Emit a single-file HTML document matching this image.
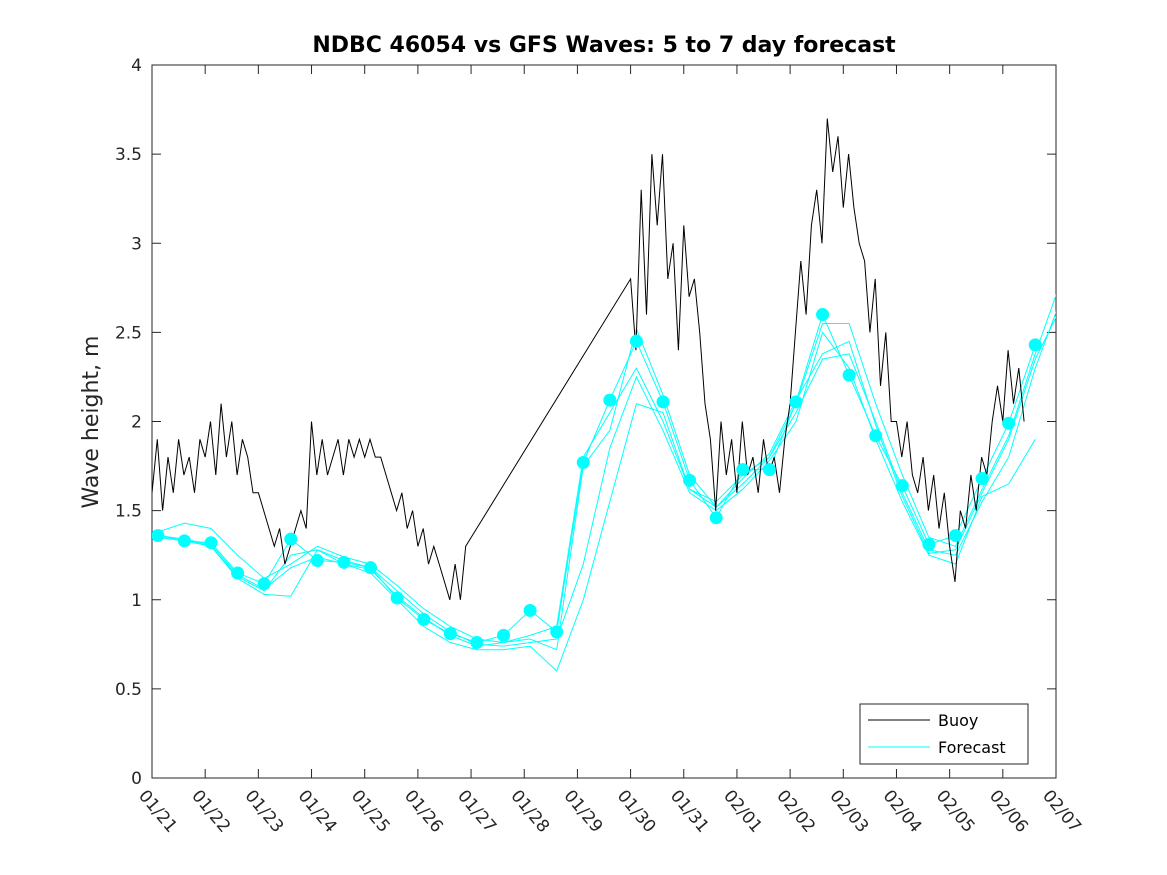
<!DOCTYPE html>
<html><head><meta charset="utf-8"><style>
body{margin:0;background:#fff;}
svg{display:block;font-family:"DejaVu Sans","Liberation Sans",sans-serif;}
</style></head><body>
<svg id="chart" width="1167" height="875" xmlns="http://www.w3.org/2000/svg">
<defs><clipPath id="plotclip"><rect x="152" y="65" width="904" height="713"/></clipPath></defs>
<rect width="1167" height="875" fill="#fff"/>
<text x="604" y="52" text-anchor="middle" font-size="22" font-weight="bold" fill="#000">NDBC 46054 vs GFS Waves: 5 to 7 day forecast</text>
<text transform="translate(98,422) rotate(-90)" text-anchor="middle" font-size="22" fill="#262626">Wave height, m</text>
<g id="axes"></g>
<g id="series" clip-path="url(#plotclip)"></g>
<g id="legend">
<rect x="860" y="704" width="168" height="60" fill="#fff" stroke="#262626" stroke-width="1"/>
<line x1="868" y1="720" x2="930" y2="720" stroke="#000" stroke-width="1"/>
<text x="938" y="726" font-size="16" fill="#000">Buoy</text>
<line x1="868" y1="747" x2="930" y2="747" stroke="#00ffff" stroke-width="1"/>
<text x="938" y="753" font-size="16" fill="#000">Forecast</text>
</g>
</svg>
<script>
const xTickLabels=["01/21","01/22","01/23","01/24","01/25","01/26","01/27","01/28","01/29","01/30","01/31","02/01","02/02","02/03","02/04","02/05","02/06","02/07"];
const yTicks=[0,0.5,1,1.5,2,2.5,3,3.5,4];
const yTickLabels=["0","0.5","1","1.5","2","2.5","3","3.5","4"];
const buoy1Start=0.0;
const buoy1=[1.6,1.9,1.5,1.8,1.6,1.9,1.7,1.8,1.6,1.9,1.8,2.0,1.7,2.1,1.8,2.0,1.7,1.9,1.8,1.6,1.6,1.5,1.4,1.3,1.4,1.2,1.3,1.4,1.5,1.4,2.0,1.7,1.9,1.7,1.8,1.9,1.7,1.9,1.8,1.9,1.8,1.9,1.8,1.8,1.7,1.6,1.5,1.6,1.4,1.5,1.3,1.4,1.2,1.3,1.2,1.1,1.0,1.2,1.0,1.3];
const buoy2Start=9.0;
const buoy2=[2.8,2.4,3.3,2.6,3.5,3.1,3.5,2.8,3.0,2.4,3.1,2.7,2.8,2.5,2.1,1.9,1.5,2.0,1.7,1.9,1.6,2.0,1.7,1.8,1.6,1.9,1.7,1.8,1.6,1.9,2.1,2.5,2.9,2.6,3.1,3.3,3.0,3.7,3.4,3.6,3.2,3.5,3.2,3.0,2.9,2.5,2.8,2.2,2.5,2.0,2.0,1.8,2.0,1.7,1.6,1.8,1.5,1.7,1.4,1.6,1.3,1.1,1.5,1.4,1.7,1.5,1.8,1.7,2.0,2.2,2.0,2.4,2.1,2.3,2.0];
const fcStart=0.11;
const fcDots=[1.36,1.33,1.32,1.15,1.09,1.34,1.22,1.21,1.18,1.01,0.89,0.81,0.76,0.80,0.94,0.82,1.77,2.12,2.45,2.11,1.67,1.46,1.73,1.73,2.11,2.60,2.26,1.92,1.64,1.31,1.36,1.68,1.99,2.43];
const run1=[1.38,1.43,1.40,1.25,1.12,1.20,1.30,1.24,1.20,1.08,0.95,0.85,0.78,0.76,0.78,0.72,1.75,1.95,2.52,2.15,1.70,1.52,1.65,1.80,2.10,2.55,2.55,2.10,1.70,1.35,1.30,1.62,1.92,2.38,2.80];
const run2=[1.36,1.34,1.30,1.12,1.03,1.02,1.28,1.20,1.15,1.00,0.85,0.76,0.72,0.72,0.74,0.60,1.00,1.55,2.10,2.05,1.62,1.55,1.70,1.80,2.05,2.35,2.38,2.00,1.60,1.28,1.25,1.55,1.80,2.30,2.70];
const run3=[1.35,1.33,1.30,1.13,1.05,1.25,1.28,1.22,1.18,1.05,0.92,0.82,0.75,0.74,0.76,0.78,1.20,1.85,2.25,1.95,1.60,1.50,1.62,1.78,2.00,2.50,2.30,1.90,1.55,1.25,1.20,1.58,1.65,1.90];
const run4=[1.36,1.34,1.31,1.14,1.06,1.18,1.24,1.20,1.17,1.02,0.90,0.80,0.74,0.76,0.80,0.85,1.80,2.05,2.30,2.00,1.62,1.52,1.68,1.82,2.12,2.38,2.45,1.98,1.58,1.26,1.28,1.60,1.90,2.35,2.65];

const L=152,R=1056,T=65,B=778;
const X=d=>L+d*(R-L)/17;
const Y=v=>B-v*(B-T)/4;
const NS="http://www.w3.org/2000/svg";
function mk(tag,attrs,parent){const e=document.createElementNS(NS,tag);for(const k in attrs)e.setAttribute(k,attrs[k]);parent.appendChild(e);return e;}
const axes=document.getElementById('axes'),ser=document.getElementById('series');
let r=mk('rect',{x:L,y:T,width:R-L,height:B-T,fill:'none',stroke:'#262626','stroke-width':1},axes);


yTicks.forEach((v,i)=>{
  let a=mk('line',{x1:L,y1:Y(v),x2:L+9,y2:Y(v),stroke:'#262626'},axes);
  
  
  let b=mk('line',{x1:R,y1:Y(v),x2:R-9,y2:Y(v),stroke:'#262626'},axes);
  
  
  let t=mk('text',{x:L-10,y:Y(v)+6,'text-anchor':'end','font-size':17,fill:'#262626'},axes);
  t.textContent=yTickLabels[i];
  
  
});
xTickLabels.forEach((s,i)=>{
  const x=X(i);
  let a=mk('line',{x1:x,y1:B,x2:x,y2:B-9,stroke:'#262626'},axes);
  
  
  let b=mk('line',{x1:x,y1:T,x2:x,y2:T+9,stroke:'#262626'},axes);
  
  
  let t=mk('text',{transform:`translate(${x-14},${B+18}) rotate(50)`,'font-size':17,fill:'#262626'},axes);
  t.textContent=s;
  
  
});
function pts(start,step,arr){return arr.map((v,i)=>X(start+i*step).toFixed(1)+','+Y(v).toFixed(1));}
[run1,run2,run3,run4].forEach(run=>{
  let p=mk('polyline',{points:pts(fcStart,0.5,run).join(' '),fill:'none',stroke:'#00ffff','stroke-width':1},ser);
  
  
});
let fd=mk('polyline',{points:pts(fcStart,0.5,fcDots).join(' '),fill:'none',stroke:'#00ffff','stroke-width':1},ser);


const bp=pts(buoy1Start,0.1,buoy1).concat(pts(buoy2Start,0.1,buoy2));
let bl=mk('polyline',{points:bp.join(' '),fill:'none',stroke:'#000','stroke-width':1},ser);


fcDots.forEach((v,i)=>{
  let c=mk('circle',{cx:X(fcStart+i*0.5),cy:Y(v),r:6.5,fill:'#00ffff'},ser);
  
  
});
</script>
</body></html>
